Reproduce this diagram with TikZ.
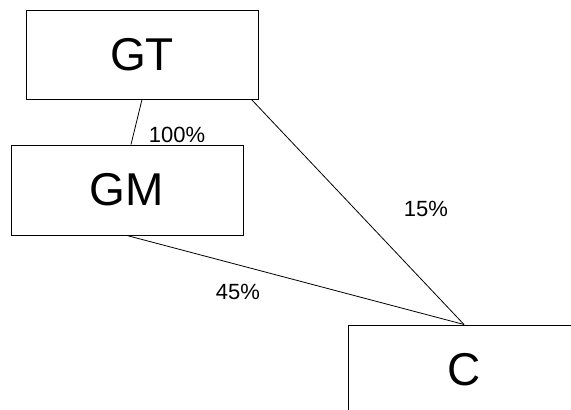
\documentclass[tikz,border=0pt]{standalone}
\usepackage{fontspec}
\setmainfont{Liberation Sans}

\begin{document}
\begin{tikzpicture}[x=1pt,y=-1pt,
entity/.style={draw,line width=1pt,minimum width=232pt,minimum height=90pt,inner sep=0pt,font=\fontsize{46}{46}\selectfont},
share/.style={line width=0.8pt},
pct/.style={inner sep=0pt,font=\fontsize{22}{22}\selectfont}]

\useasboundingbox (0,0) rectangle (571,410);
\clip (0,0) rectangle (571,410);

\node[entity,minimum height=89pt] (GT) at (142,54.5) {GT};
\node[entity] (GM) at (127,190) {GM};
\node[entity] (C) at (464,370) {C};

\draw[share] (GT.south) -- ([xshift=4pt]GM.north);
\draw[share] ([xshift=-7pt]GT.south east) -- (C.north);
\draw[share] (GM.south) -- (C.north);

\node[pct] (p100) at (177,135) {100\%};
\node[pct] (p15) at (426,209) {15\%};
\node[pct] (p45) at (238,292) {45\%};

\end{tikzpicture}
\end{document}
